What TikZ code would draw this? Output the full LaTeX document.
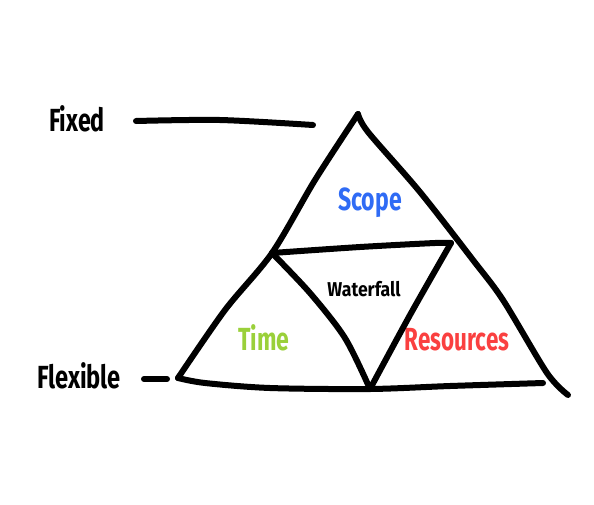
\documentclass[tikz,border=0pt]{standalone}
\usepackage{fontspec}
\setmainfont{Fira Sans}
\usepackage{xcolor}
\usepackage{graphicx}
\usepackage{tikz}

\definecolor{scopeblue}{HTML}{2F6BF5}
\definecolor{timegreen}{HTML}{9AD03A}
\definecolor{resred}{HTML}{FA4040}

\newcommand{\squeeze}[2]{\scalebox{#1}[1]{#2}}

\tikzset{
  sketch/.style={line width=6pt, line cap=round, line join=round, black},
  bigword/.style={anchor=base, inner sep=0pt, font=\fontsize{32}{32}\selectfont\bfseries},
  smallword/.style={anchor=base, inner sep=0pt, font=\fontsize{20}{20}\selectfont\bfseries}
}

\begin{document}
\begin{tikzpicture}[x=1pt, y=-1pt]
\useasboundingbox (0,0) rectangle (594,504);

% corners of the triangle
\coordinate (apex) at (358,114);
\coordinate (lcorner) at (178,378);
\coordinate (rcorner) at (568,395);
\coordinate (mleft) at (272,253);
\coordinate (mright) at (451,243);
\coordinate (vbottom) at (370,389);
\coordinate (baseend) at (543,383);
\coordinate (fixA) at (136,121);
\coordinate (fixB) at (313,125);
\coordinate (flexA) at (144,379);
\coordinate (flexB) at (167,379);

% labels
\node (fixed) [bigword] at (77,131) {\squeeze{0.73}{Fixed}};
\node (flexible) [bigword] at (79,388) {\squeeze{0.74}{Flexible}};
\node (scope) [bigword, text=scopeblue] at (370,210) {\squeeze{0.72}{Scope}};
\node (time) [bigword, text=timegreen] at (264,350) {\squeeze{0.72}{Time}};
\node (resources) [bigword, text=resred] at (457,350) {\squeeze{0.7}{Resources}};
\node (waterfall) [smallword] at (364,296) {\squeeze{0.88}{Waterfall}};

% outer triangle
\draw[sketch] plot[smooth, tension=0.5] coordinates {(apex) (315,180) (mleft) (225,310) (lcorner)};
\draw[sketch] plot[smooth, tension=0.5] coordinates {(apex) (368,132) (420,192) (473,260) (503,300) (547,373) (rcorner)};
\draw[sketch] plot[smooth, tension=0.5] coordinates {(lcorner) (205,383) (270,388) (vbottom) (450,386) (baseend)};

% inner triangle
\draw[sketch] plot[smooth, tension=0.5] coordinates {(mleft) (360,247) (435,243) (mright)};
\draw[sketch] plot[smooth, tension=0.5] coordinates {(mleft) (310,293) (345,338) (vbottom)};
\draw[sketch] plot[smooth, tension=0.5] coordinates {(mright) (410,315) (vbottom)};

% level markers
\draw[sketch] plot[smooth, tension=0.5] coordinates {(fixA) (220,120) (fixB)};
\draw[sketch] (flexA) -- (flexB);

\end{tikzpicture}
\end{document}
